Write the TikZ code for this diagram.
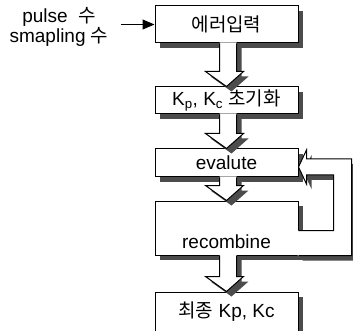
\documentclass[tikz,border=0pt]{standalone}
\usepackage{fontspec}
\setmainfont{Liberation Sans}
\newfontfamily\kr{Noto Sans CJK KR}
\usetikzlibrary{positioning,shadows,calc,arrows.meta}

\tikzset{
  boxshadow/.style={drop shadow={shadow xshift=5pt, shadow yshift=-5pt, fill=black!70, opacity=1}},
  stage/.style={draw, line width=1pt, fill=white, boxshadow, minimum width=143pt,
    inner sep=0pt, font=\fontsize{19}{21}\selectfont},
  flowline/.style={line width=1pt, line join=miter}
}

\begin{document}
\begin{tikzpicture}[x=1pt, y=-1pt]

  \useasboundingbox (0,0) rectangle (353,331);

  % Stages
  \node[stage, minimum height=37pt] (err) at (226.5,24.5) {\kr 에러입력};
  \node[stage, minimum height=27pt, below=43pt of err] (init) {K\textsubscript{p}, K\textsubscript{c} {\kr 초기화}};
  \node[stage, minimum height=28pt, below=34pt of init] (eval) {evalute};
  \node[stage, minimum height=54pt, text height=40pt, text depth=0pt, below=23pt of eval] (rec) {recombine};
  \node[stage, minimum height=39pt, below=36pt of rec] (fin) {{\kr 최종} Kp, Kc};

  % Inputs
  \node[align=center, font=\fontsize{19}{19}\selectfont] (param) at (59,27) {pulse\ \ {\kr 수}\\smapling {\kr 수}};
  \draw[line width=1pt, -{Triangle[length=12pt,width=10pt]}, shorten <=9pt] (param.east |- err.west) -- (err.west);

  % Hollow arrows between stages
  \foreach \a/\b in {err/init, init/eval, eval/rec, rec/fin} {
    \fill[white, boxshadow] ($(\a.south)+(-7,-1)$) -- ($(\b.north)+(-7,-15)$) -- ($(\b.north)+(-21,-15)$)
      -- (\b.north) -- ($(\b.north)+(17,-15)$) -- ($(\b.north)+(10,-15)$) -- ($(\a.south)+(10,-1)$) -- cycle;
    \draw[flowline] ($(\a.south)+(-7,0)$) -- ($(\b.north)+(-7,-15)$) -- ($(\b.north)+(-21,-15)$)
      -- (\b.north) -- ($(\b.north)+(17,-15)$) -- ($(\b.north)+(10,-15)$) -- ($(\a.south)+(10,0)$);
  }

  % Loop back from recombine to evalute
  \fill[white, boxshadow] ($(rec.south east)+(-1,-25)$) -- ($(rec.south east)+(35,-25)$)
    -- ($(eval.east)+(35,12)$) -- ($(eval.east)+(8,12)$) -- ($(eval.east)+(8,21)$) -- ($(eval.east)+(0,4)$)
    -- ($(eval.east)+(8,-13)$) -- ($(eval.east)+(8,-4)$) -- ($(eval.east)+(53,-4)$)
    -- ($(rec.south east)+(53,0)$) -- ($(rec.south east)+(-1,0)$) -- cycle;
  \draw[flowline] ($(rec.south east)+(0,-25)$) -- ($(rec.south east)+(35,-25)$)
    -- ($(eval.east)+(35,12)$) -- ($(eval.east)+(8,12)$) -- ($(eval.east)+(8,21)$) -- ($(eval.east)+(0,4)$)
    -- ($(eval.east)+(8,-13)$) -- ($(eval.east)+(8,-4)$) -- ($(eval.east)+(53,-4)$)
    -- ($(rec.south east)+(53,0)$) -- (rec.south east);

\end{tikzpicture}
\end{document}
